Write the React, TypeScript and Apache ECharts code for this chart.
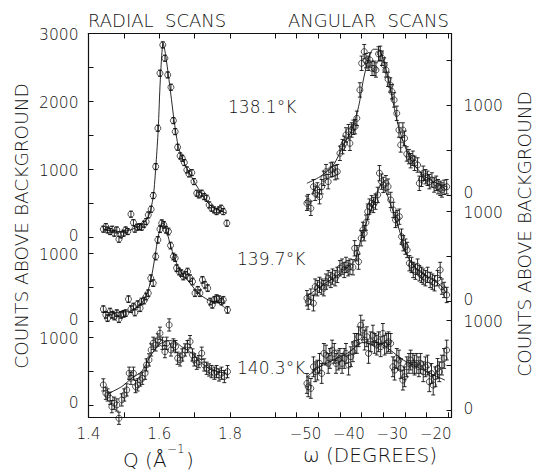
import React, { useEffect, useRef } from 'react';
import * as echarts from 'echarts';

// ---------- axes / ticks ----------
const Q_MIN = 1.4;
const Q_MAX = 1.9074;
const W_MIN = -56.57;
const W_MAX = -14.29;
const Q_TICKS = [1.5, 1.6, 1.7, 1.8];
const Q_LABELS = [1.4, 1.6, 1.8];
const W_TICKS = [-55, -50, -45, -40, -35, -30, -25, -20, -15];
const W_LABELS = [-50, -40, -30, -20];

// left axis (radial scans): panel offsets in counts
const LEFT_MIN = -2652;
const LEFT_MAX = 3000;
const LEFT_OFFSETS = [0, 1236, 2470];
const LEFT_TICKS = [[0, 500, 1000, 1500, 2000, 2500, 3000], [0, 500, 1000], [0, 500, 1000]];
const LEFT_LABELS = [[0, 1000, 2000, 3000], [0, 1000], [0, 1000]];

// right axis (angular scans)
const RIGHT_MIN = -2470;
const RIGHT_MAX = 1794;
const RIGHT_OFFSETS = [0, 1185, 2390];
const RIGHT_TICKS = [[0, 500, 1000, 1500], [0, 500, 1000], [0, 500, 1000]];
const RIGHT_LABELS = [[0, 1000], [0, 1000], [0, 1000]];

const TEMPS = ['138.1°K', '139.7°K', '140.3°K'];

// ---------- radial scans (Q, counts) ----------
const radial1381: number[][] = [
  [1.442, 118], [1.449, 156], [1.454, 107], [1.461, 83], [1.467, 118], [1.473, 59], [1.480, 107], [1.486, -30],
  [1.492, 34], [1.499, 59], [1.505, 107], [1.511, 83], [1.520, 339], [1.527, 215], [1.531, 118], [1.538, 147],
  [1.544, 156], [1.550, 147], [1.557, 191], [1.563, 230], [1.569, 328], [1.577, 412], [1.583, 613], [1.590, 1040],
  [1.596, 1605], [1.602, 2415], [1.610, 2832], [1.616, 2636], [1.624, 2390], [1.633, 2209], [1.640, 1717],
  [1.645, 1555], [1.652, 1325], [1.659, 1197], [1.665, 1163], [1.671, 1099], [1.678, 991], [1.684, 932],
  [1.692, 951], [1.698, 819], [1.706, 648], [1.712, 623], [1.720, 648], [1.727, 598], [1.734, 574], [1.741, 476],
  [1.748, 427], [1.755, 402], [1.762, 377], [1.769, 402], [1.775, 427], [1.781, 377], [1.791, 206],
];
const radialFit1381: number[][] = [
  [1.442, 107], [1.494, 82], [1.541, 156], [1.569, 303], [1.583, 598], [1.591, 1090], [1.597, 1580], [1.603, 2317],
  [1.611, 2857], [1.618, 2685], [1.630, 2218], [1.643, 1679], [1.654, 1334], [1.671, 1090], [1.696, 844],
  [1.725, 598], [1.748, 451], [1.791, 353],
];
const radial1397: number[][] = [
  [1.442, 177], [1.449, 93], [1.454, 44], [1.461, 141], [1.467, 93], [1.473, 68], [1.480, 118], [1.486, 29],
  [1.492, 93], [1.499, 107], [1.505, 118], [1.513, 324], [1.520, 177], [1.527, 215], [1.531, 127], [1.539, 250],
  [1.546, 191], [1.550, 289], [1.557, 303], [1.563, 362], [1.569, 412], [1.576, 633], [1.583, 560], [1.590, 951],
  [1.596, 1197], [1.602, 1355], [1.607, 1443], [1.613, 1418], [1.619, 1345], [1.626, 1320], [1.632, 1113],
  [1.640, 951], [1.645, 928], [1.649, 781], [1.656, 730], [1.662, 707], [1.668, 657], [1.675, 682], [1.680, 730],
  [1.687, 633], [1.694, 583], [1.701, 412], [1.709, 461], [1.715, 412], [1.722, 608], [1.729, 535], [1.737, 486],
  [1.744, 289], [1.750, 240], [1.756, 314], [1.762, 339], [1.769, 324], [1.776, 289], [1.781, 314], [1.793, 166],
];
const radialFit1397: number[][] = [
  [1.442, 127], [1.513, 141], [1.550, 265], [1.569, 461], [1.580, 707], [1.588, 951], [1.597, 1246], [1.607, 1429],
  [1.611, 1443], [1.618, 1384], [1.630, 1149], [1.645, 903], [1.663, 707], [1.687, 560], [1.710, 412], [1.738, 314],
  [1.767, 265], [1.791, 177],
];
const radial1403: number[][] = [
  [1.442, 295], [1.449, 172], [1.454, 147], [1.461, 99], [1.466, -25], [1.473, 25], [1.480, 0], [1.486, -196],
  [1.494, 74], [1.501, 147], [1.508, 221], [1.515, 467], [1.520, 393], [1.527, 467], [1.533, 270], [1.539, 295],
  [1.546, 368], [1.552, 393], [1.560, 467], [1.564, 589], [1.571, 663], [1.577, 810], [1.583, 908], [1.590, 884],
  [1.596, 957], [1.602, 1056], [1.609, 908], [1.616, 785], [1.621, 908], [1.628, 1178], [1.633, 810], [1.640, 884],
  [1.646, 859], [1.652, 688], [1.659, 663], [1.665, 736], [1.673, 810], [1.680, 859], [1.687, 933], [1.694, 736],
  [1.699, 663], [1.706, 614], [1.712, 638], [1.720, 761], [1.727, 589], [1.734, 540], [1.741, 515], [1.748, 491],
  [1.756, 467], [1.762, 491], [1.769, 442], [1.776, 467], [1.784, 418], [1.793, 491],
];
const radialFit1403: number[][] = [
  [1.454, 162], [1.494, 270], [1.522, 393], [1.550, 491], [1.574, 712], [1.598, 884], [1.616, 933], [1.630, 947],
  [1.645, 933], [1.663, 859], [1.692, 761], [1.720, 614], [1.748, 515], [1.791, 467],
];

// ---------- angular scans (omega, counts) ----------
const angular1381: number[][] = [
  [-47.6, -92], [-47.3, -74], [-46.7, -148], [-46.1, 92], [-45.7, 19], [-45.2, 56], [-44.7, -19], [-44.2, 92],
  [-43.7, 185], [-43.2, 259], [-42.7, 148], [-42.1, 278], [-41.7, 285], [-41.1, 248], [-40.6, 259], [-40.0, 463],
  [-39.4, 537], [-39.0, 574], [-38.6, 667], [-38.0, 703], [-37.7, 574], [-37.3, 722], [-36.9, 752], [-36.5, 759],
  [-36.1, 852], [-35.4, 1167], [-35.0, 1463], [-34.4, 1592], [-34.0, 1492], [-33.5, 1463], [-33.1, 1500],
  [-32.6, 1407], [-32.1, 1407], [-31.7, 1389], [-31.1, 1567], [-30.7, 1574], [-30.3, 1519], [-29.8, 1444],
  [-29.4, 1389], [-28.9, 1285], [-28.4, 1222], [-28.0, 1148], [-27.5, 1056], [-26.9, 907], [-26.4, 722],
  [-26.0, 556], [-25.5, 722], [-25.1, 630], [-24.6, 456], [-24.1, 426], [-23.7, 381], [-23.2, 408], [-22.8, 352],
  [-22.1, 333], [-21.7, 130], [-21.2, 174], [-20.8, 241], [-20.3, 203], [-19.8, 185], [-19.4, 148], [-18.8, 167],
  [-18.3, 111], [-17.8, 130], [-17.4, 92], [-16.9, 74], [-16.5, 56], [-16.0, 85], [-15.4, 92],
];
const angularFit1381: number[][] = [
  [-47.6, 130], [-44.6, 203], [-41.5, 333], [-39.2, 556], [-37.3, 722], [-35.7, 981], [-34.6, 1278], [-33.4, 1519],
  [-32.3, 1619], [-31.1, 1619], [-30.0, 1500], [-28.8, 1278], [-27.7, 1019], [-26.5, 759], [-25.0, 537],
  [-23.1, 352], [-20.8, 222], [-18.5, 148], [-15.4, 92],
];
const angular1397: number[][] = [
  [-47.6, 38], [-47.3, 0], [-46.7, 56], [-46.1, -18], [-45.7, 167], [-45.2, 149], [-44.7, 186], [-44.2, 167],
  [-43.7, 149], [-43.2, 222], [-42.7, 260], [-42.1, 241], [-41.7, 278], [-41.1, 260], [-40.6, 297], [-40.0, 371],
  [-39.5, 389], [-39.0, 352], [-38.6, 408], [-38.1, 371], [-37.7, 389], [-37.0, 382], [-36.6, 593], [-36.1, 538],
  [-35.7, 444], [-35.1, 704], [-34.7, 797], [-34.4, 760], [-34.0, 878], [-33.6, 1000], [-33.2, 1056], [-32.7, 1093],
  [-32.3, 1074], [-31.8, 1111], [-31.3, 1186], [-30.9, 1427], [-30.4, 1333], [-30.0, 1297], [-29.4, 1316],
  [-28.9, 1278], [-28.3, 1130], [-27.7, 1019], [-27.2, 908], [-26.8, 927], [-26.3, 944], [-25.8, 722], [-25.4, 649],
  [-24.9, 611], [-24.5, 574], [-24.0, 427], [-23.5, 408], [-23.1, 352], [-22.6, 333], [-22.1, 389], [-21.7, 315],
  [-21.2, 297], [-20.8, 278], [-20.3, 260], [-19.8, 297], [-19.2, 241], [-18.7, 222], [-18.2, 204], [-17.5, 260],
  [-16.9, 352], [-16.5, 167], [-16.0, 130], [-15.4, 74],
];
const angularFit1397: number[][] = [
  [-47.6, 56], [-44.6, 167], [-41.5, 260], [-38.5, 371], [-36.5, 463], [-35.0, 722], [-33.4, 944], [-31.9, 1130],
  [-30.9, 1278], [-30.6, 1304], [-29.6, 1241], [-28.4, 1093], [-27.3, 944], [-26.1, 760], [-25.0, 574],
  [-23.5, 427], [-21.5, 333], [-19.2, 260], [-16.9, 185], [-15.4, 93],
];
const angular1403: number[][] = [
  [-47.6, 296], [-47.3, 259], [-46.7, 241], [-46.1, 481], [-45.7, 426], [-45.2, 444], [-44.7, 519], [-44.2, 407],
  [-43.7, 630], [-43.2, 611], [-42.7, 519], [-42.3, 574], [-41.8, 667], [-41.3, 630], [-40.9, 519], [-40.4, 556],
  [-40.0, 574], [-39.5, 519], [-39.0, 574], [-38.6, 630], [-38.0, 500], [-37.5, 593], [-37.0, 648], [-36.6, 741],
  [-36.1, 741], [-35.7, 815], [-35.2, 944], [-34.7, 889], [-34.3, 778], [-33.8, 815], [-33.4, 630], [-32.9, 759],
  [-32.4, 833], [-32.0, 741], [-31.5, 722], [-31.1, 759], [-30.6, 704], [-30.1, 852], [-29.7, 722], [-29.2, 741],
  [-28.8, 759], [-28.3, 741], [-27.8, 481], [-27.4, 444], [-26.9, 574], [-26.4, 556], [-26.0, 463], [-25.5, 333],
  [-25.1, 370], [-24.6, 481], [-24.1, 519], [-23.7, 556], [-23.2, 519], [-22.8, 500], [-22.3, 519], [-21.8, 481],
  [-21.4, 519], [-20.8, 426], [-20.3, 481], [-19.8, 500], [-19.4, 315], [-18.9, 407], [-18.5, 278], [-18.0, 370],
  [-17.5, 463], [-17.1, 426], [-16.5, 500], [-16.0, 574], [-15.4, 667],
];
const angularFit1403: number[][] = [
  [-47.6, 370], [-44.6, 481], [-40.7, 574], [-37.7, 648], [-35.4, 741], [-33.1, 759], [-30.7, 741], [-28.4, 667],
  [-25.4, 556], [-22.3, 481], [-19.2, 407], [-15.8, 333],
];

// error-bar half heights (counts) per panel
const RADIAL_ERR = [45, 50, 90];
const ANGULAR_ERR = [80, 85, 110];

const FONT = 'DejaVu Sans';
const WEIGHT = 200;
const INK = '#111';
const TXT = '#111';

function labelMap(offsets: number[], labels: number[][]) {
  const m = new Map<number, string>();
  labels.forEach((arr, k) => arr.forEach((c) => m.set(Math.round(c - offsets[k]), c === 0 ? '{z|0}' : `{k|${c}}`)));
  return m;
}
function tickValues(offsets: number[], ticks: number[][]) {
  const out: number[] = [];
  ticks.forEach((arr, k) => arr.forEach((c) => out.push(c - offsets[k])));
  return out;
}

function errRender(params: any, api: any) {
  const x = api.value(0);
  const y = api.value(1);
  const e = api.value(2);
  const top = api.coord([x, y + e]);
  const bot = api.coord([x, y - e]);
  const st = { stroke: INK, lineWidth: 0.9 };
  return {
    type: 'group',
    children: [
      { type: 'line', shape: { x1: top[0], y1: top[1], x2: bot[0], y2: bot[1] }, style: st },
      { type: 'line', shape: { x1: top[0] - 2, y1: top[1], x2: top[0] + 2, y2: top[1] }, style: st },
      { type: 'line', shape: { x1: bot[0] - 2, y1: bot[1], x2: bot[0] + 2, y2: bot[1] }, style: st },
    ],
  };
}

function panel(points: number[][], fit: number[][], err: number, offset: number, xi: number, yi: number) {
  return [
    {
      type: 'custom',
      xAxisIndex: xi,
      yAxisIndex: yi,
      clip: false,
      renderItem: errRender,
      data: points.map(([x, c]) => [x, c - offset, err]),
      silent: true,
    },
    {
      type: 'scatter',
      xAxisIndex: xi,
      yAxisIndex: yi,
      clip: false,
      symbol: 'circle',
      symbolSize: 6,
      itemStyle: { color: 'rgba(0,0,0,0)', borderColor: INK, borderWidth: 0.9 },
      data: points.map(([x, c]) => [x, c - offset]),
      silent: true,
    },
    {
      type: 'line',
      xAxisIndex: xi,
      yAxisIndex: yi,
      showSymbol: false,
      smooth: 0.25,
      lineStyle: { color: INK, width: 0.9 },
      data: fit.map(([x, c]) => [x, c - offset]),
      silent: true,
    },
  ];
}

function txt(text: string, x: number, y: number, size: number, align = 'left', extra: any = {}) {
  return {
    type: 'text', x, y, ...extra,
    style: { text, fontFamily: FONT, fontWeight: WEIGHT, fontSize: size, fill: TXT, align, verticalAlign: 'middle' },
  };
}

export default function App() {
  const ref = useRef<HTMLDivElement>(null);
  useEffect(() => {
    const chart = echarts.init(ref.current!, null, { renderer: 'svg' });
    const lMap = labelMap(LEFT_OFFSETS, LEFT_LABELS);
    const rMap = labelMap(RIGHT_OFFSETS, RIGHT_LABELS);
    const axisLine = { show: true, onZero: false, lineStyle: { color: INK, width: 1.2 } };
    const tickStyle = { lineStyle: { color: INK, width: 1 } };
    const tickLabel = { fontFamily: FONT, fontWeight: WEIGHT, color: TXT, fontSize: 15 };
    const yRich = {
      z: { fontFamily: FONT, fontWeight: WEIGHT, color: TXT, fontSize: 15.5, lineHeight: 15, padding: [0, 0, 3, 0] },
      k: { fontFamily: FONT, fontWeight: WEIGHT, color: TXT, fontSize: 15.5, lineHeight: 15, padding: [3, 0, 0, 0] },
    };

    const radialSets = [radial1381, radial1397, radial1403];
    const radialFits = [radialFit1381, radialFit1397, radialFit1403];
    const angularSets = [angular1381, angular1397, angular1403];
    const angularFits = [angularFit1381, angularFit1397, angularFit1403];

    const series: any[] = [];
    radialSets.forEach((pts, k) => series.push(...panel(pts, radialFits[k], RADIAL_ERR[k], LEFT_OFFSETS[k], 0, 0)));
    angularSets.forEach((pts, k) => series.push(...panel(pts, angularFits[k], ANGULAR_ERR[k], RIGHT_OFFSETS[k], 2, 1)));

    const tempY = [106.7, 259.3, 368.3];
    const tempX = [228, 237, 237];

    const option: any = {
      animation: false,
      backgroundColor: '#fff',
      grid: [
        { left: 88.5, top: 33.5, width: 179.5, height: 383.8 },
        { left: 268, top: 33.5, width: 183.5, height: 383.8 },
      ],
      xAxis: [
        {
          type: 'value', gridIndex: 0, position: 'bottom', min: Q_MIN, max: Q_MAX,
          axisLine, splitLine: { show: false },
          axisTick: { inside: true, length: 5, customValues: Q_TICKS, ...tickStyle },
          axisLabel: {
            customValues: Q_LABELS, margin: 9, showMinLabel: true, showMaxLabel: true, hideOverlap: false,
            formatter: (v: number) => v.toFixed(1), ...tickLabel,
          },
        },
        {
          type: 'value', gridIndex: 0, position: 'top', min: Q_MIN, max: Q_MAX,
          axisLine, splitLine: { show: false },
          axisTick: { inside: true, length: 5, customValues: Q_TICKS, ...tickStyle },
          axisLabel: { show: false },
        },
        {
          type: 'value', gridIndex: 1, position: 'bottom', min: W_MIN, max: W_MAX,
          axisLine, splitLine: { show: false },
          axisTick: { inside: true, length: 5, customValues: W_TICKS, ...tickStyle },
          axisLabel: {
            customValues: W_LABELS, margin: 9, padding: [0, 0, 0, 18],
            showMinLabel: true, showMaxLabel: true, hideOverlap: false,
            formatter: (v: number) => String(Math.round(v)).replace('-', '\u2212'), ...tickLabel,
          },
        },
        {
          type: 'value', gridIndex: 1, position: 'top', min: W_MIN, max: W_MAX,
          axisLine, splitLine: { show: false },
          axisTick: { inside: true, length: 5, customValues: W_TICKS, ...tickStyle },
          axisLabel: { show: false },
        },
      ],
      yAxis: [
        {
          type: 'value', gridIndex: 0, position: 'left', min: LEFT_MIN, max: LEFT_MAX,
          axisLine, splitLine: { show: false },
          axisTick: { show: true, inside: true, length: 5, customValues: tickValues(LEFT_OFFSETS, LEFT_TICKS), ...tickStyle },
          axisLabel: {
            customValues: tickValues(LEFT_OFFSETS, LEFT_LABELS), margin: 10,
            showMinLabel: true, showMaxLabel: true, hideOverlap: false,
            formatter: (v: number) => lMap.get(Math.round(v)) ?? '', rich: yRich,
          },
        },
        {
          type: 'value', gridIndex: 1, position: 'right', min: RIGHT_MIN, max: RIGHT_MAX,
          axisLine, splitLine: { show: false },
          axisTick: { show: true, inside: true, length: 5, customValues: tickValues(RIGHT_OFFSETS, RIGHT_TICKS), ...tickStyle },
          axisLabel: {
            customValues: tickValues(RIGHT_OFFSETS, RIGHT_LABELS), margin: 12,
            showMinLabel: true, showMaxLabel: true, hideOverlap: false,
            formatter: (v: number) => rMap.get(Math.round(v)) ?? '', rich: yRich,
          },
        },
      ],
      graphic: [
        txt('RADIAL  SCANS', 88, 20, 18),
        txt('ANGULAR  SCANS', 288, 20, 18),
        ...TEMPS.map((t, k) => txt(t, tempX[k], tempY[k], 17)),
        txt('COUNTS ABOVE BACKGROUND', 21, 226, 18.5, 'center', { rotation: Math.PI / 2 }),
        txt('COUNTS ABOVE BACKGROUND', 524, 234, 18.5, 'center', { rotation: Math.PI / 2 }),
        txt('Q (Å', 123, 460, 20),
        txt('\u22121', 167, 449, 12),
        txt(')', 186, 460, 20),
        txt('ω (DEGREES)', 370, 455, 20, 'center'),
      ],
      series,
    };
    chart.setOption(option);
    return () => chart.dispose();
  }, []);
  return <div ref={ref} style={{ position: 'fixed', left: 0, top: 0, width: 533, height: 472, background: '#fff' }} />;
}
